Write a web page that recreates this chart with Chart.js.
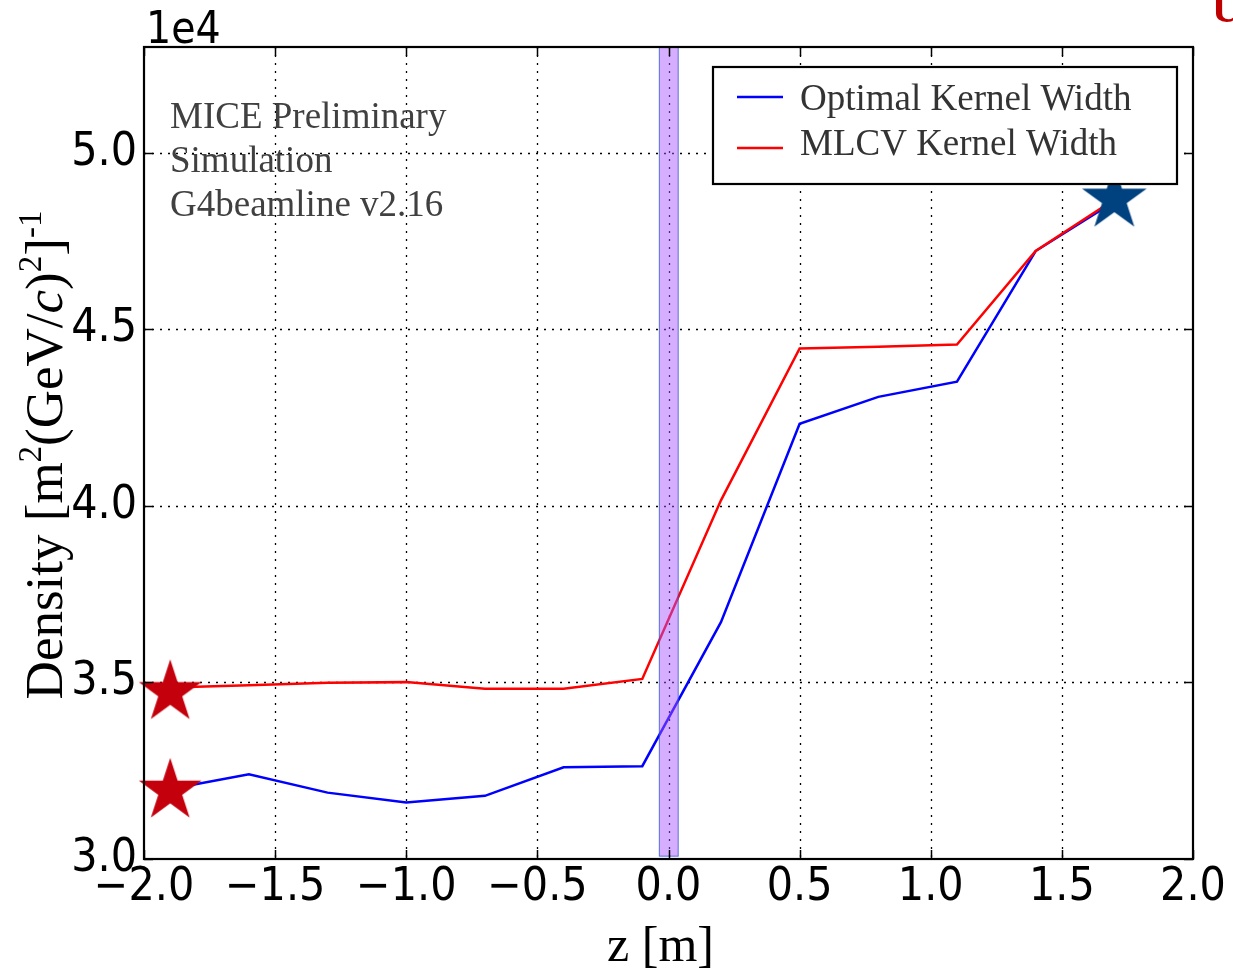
<!DOCTYPE html>
<html>
<head>
<meta charset="utf-8">
<script src="https://cdn.jsdelivr.net/npm/chart.js@4/dist/chart.umd.min.js"></script>
<style>
  html, body { margin: 0; padding: 0; background: #ffffff; }
  canvas { display: block; }
</style>
</head>
<body>
<canvas id="densityChart" width="1233" height="969"></canvas>
<script>
// Beam density along z for two kernel-width choices
const zPositions     = [-1.9, -1.6, -1.3, -1.0, -0.7, -0.4, -0.1, 0.2, 0.5, 0.8, 1.1, 1.4, 1.7];
const optimalDensity = [31980, 32400, 31880, 31600, 31790, 32600, 32630, 36710, 42330, 43090, 43520, 47220, 48620];
const mlcvDensity    = [34860, 34920, 34990, 35010, 34820, 34820, 35100, 40160, 44460, 44510, 44570, 47220, 48680];
const seriesNames    = ['Optimal Kernel Width', 'MLCV Kernel Width'];

// Axis ranges and ticks
const xRange = [-2, 2];
const yRange = [30000, 53000];
const xTicks = [-2.0, -1.5, -1.0, -0.5, 0.0, 0.5, 1.0, 1.5, 2.0];
const yTicks = [30000, 35000, 40000, 45000, 50000];
const yExponent = 4;

// Star markers at the reference and end stations
const starZ       = [-1.9, -1.9, 1.7];
const starDensity = [34720, 31930, 48690];
const starColors  = ['#c4000d', '#c4000d', '#00427f'];
const starSizes   = [33, 33, 34];

// Absorber position (shaded band)
const absorberBand = [-0.035, 0.037];
const absorberFloor = 30080;

const noteLines = ['MICE Preliminary', 'Simulation', 'G4beamline v2.16'];
const xTitle = 'z [m]';

const SANS = "'DejaVu Sans Condensed', 'DejaVu Sans', sans-serif";
const SERIF = "'Liberation Serif', 'Times New Roman', serif";

function makeStar(radius, color) {
  const size = Math.ceil(radius * 2 + 4);
  const c = document.createElement('canvas');
  c.width = size; c.height = size;
  const g = c.getContext('2d');
  const cx = size / 2, cy = size / 2, inner = radius * 0.382;
  g.fillStyle = color;
  g.beginPath();
  for (let i = 0; i < 10; i++) {
    const r = i % 2 === 0 ? radius : inner;
    const a = -Math.PI / 2 + i * Math.PI / 5;
    const px = cx + r * Math.cos(a), py = cy + r * Math.sin(a);
    if (i === 0) g.moveTo(px, py); else g.lineTo(px, py);
  }
  g.closePath();
  g.fill();
  return c;
}

const toPoints = (xs, ys) => xs.map((x, i) => ({ x: x, y: ys[i] }));

const frameAndGrid = {
  id: 'frameAndGrid',
  beforeDatasetsDraw(chart) {
    const { ctx, chartArea: a, scales: { x, y } } = chart;
    ctx.save();
    ctx.strokeStyle = '#000';
    ctx.lineWidth = 1.3;
    ctx.setLineDash([2, 6]);
    xTicks.forEach(v => {
      const px = Math.round(x.getPixelForValue(v)) + 0.5;
      if (px <= a.left + 1 || px >= a.right - 1) return;
      ctx.beginPath(); ctx.moveTo(px, a.top); ctx.lineTo(px, a.bottom); ctx.stroke();
    });
    yTicks.forEach(v => {
      const py = Math.round(y.getPixelForValue(v)) + 0.5;
      if (py <= a.top + 1 || py >= a.bottom - 1) return;
      ctx.beginPath(); ctx.moveTo(a.left, py); ctx.lineTo(a.right, py); ctx.stroke();
    });
    ctx.restore();
  },
  afterDatasetsDraw(chart) {
    const { ctx, chartArea: a, scales: { x, y } } = chart;
    // absorber band, translucent over the curves
    const bx0 = x.getPixelForValue(absorberBand[0]);
    const bx1 = x.getPixelForValue(absorberBand[1]);
    const by0 = y.getPixelForValue(yRange[1]);
    const by1 = y.getPixelForValue(absorberFloor);
    ctx.save();
    ctx.fillStyle = 'rgba(170, 85, 255, 0.48)';
    ctx.fillRect(bx0, by0, bx1 - bx0, by1 - by0);
    ctx.strokeStyle = 'rgba(40, 80, 210, 0.75)';
    ctx.lineWidth = 1;
    ctx.strokeRect(bx0, by0, bx1 - bx0, by1 - by0);
    ctx.restore();

    // inward tick marks on all four sides
    ctx.save();
    ctx.strokeStyle = '#000';
    ctx.lineWidth = 1.5;
    const tl = 9;
    xTicks.forEach(v => {
      const px = Math.round(x.getPixelForValue(v)) + 0.5;
      ctx.beginPath();
      ctx.moveTo(px, a.bottom); ctx.lineTo(px, a.bottom - tl);
      ctx.moveTo(px, a.top); ctx.lineTo(px, a.top + tl);
      ctx.stroke();
    });
    yTicks.forEach(v => {
      const py = Math.round(y.getPixelForValue(v)) + 0.5;
      ctx.beginPath();
      ctx.moveTo(a.left, py); ctx.lineTo(a.left + tl, py);
      ctx.moveTo(a.right, py); ctx.lineTo(a.right - tl, py);
      ctx.stroke();
    });
    // plot frame
    ctx.lineWidth = 2.2;
    ctx.strokeRect(a.left, a.top, a.right - a.left, a.bottom - a.top);
    ctx.restore();

    // annotation text
    ctx.save();
    ctx.fillStyle = '#404040';
    ctx.font = '37px ' + SERIF;
    ctx.textAlign = 'left';
    ctx.textBaseline = 'alphabetic';
    noteLines.forEach((t, i) => ctx.fillText(t, a.left + 26, a.top + 81 + i * 44));
    ctx.restore();

    // legend box
    const lw = 464, lh = 117;
    const lx = a.right - 16 - lw, ly = a.top + 20;
    ctx.save();
    ctx.fillStyle = '#ffffff';
    ctx.fillRect(lx, ly, lw, lh);
    ctx.strokeStyle = '#000';
    ctx.lineWidth = 2.2;
    ctx.strokeRect(lx, ly, lw, lh);
    const ds = chart.data.datasets;
    [0, 1].forEach(i => {
      const sy = ly + 30 + i * 51;
      ctx.strokeStyle = ds[i].borderColor;
      ctx.lineWidth = 2.5;
      ctx.beginPath(); ctx.moveTo(lx + 24, sy); ctx.lineTo(lx + 70, sy); ctx.stroke();
      ctx.fillStyle = '#333333';
      ctx.font = '37px ' + SERIF;
      ctx.textBaseline = 'alphabetic';
      ctx.fillText(seriesNames[i], lx + 87, ly + 43 + i * 45);
    });
    ctx.restore();
  },
  afterDraw(chart) {
    const { ctx, chartArea: a } = chart;
    ctx.save();
    ctx.fillStyle = '#000';
    // exponent label
    ctx.font = '44px ' + SANS;
    ctx.textBaseline = 'alphabetic';
    ctx.textAlign = 'left';
    ctx.fillText('1e' + yExponent, a.left + 2, a.top - 4);

    // x axis title
    ctx.font = '50px ' + SERIF;
    ctx.textAlign = 'center';
    ctx.fillText(xTitle, (a.left + a.right) / 2 - 8, 961);

    // y axis title with superscripts and italic c
    const size = 53;
    const parts = [
      { t: 'Density [m' }, { t: '2', sup: true }, { t: '(GeV/' }, { t: 'c', it: true },
      { t: ')' }, { t: '2', sup: true }, { t: ']' }, { t: '-1', sup: true }
    ];
    const fontFor = p => (p.it ? 'italic ' : '') + (p.sup ? Math.round(size * 0.62) : size) + 'px ' + SERIF;
    let total = 0;
    parts.forEach(p => { ctx.font = fontFor(p); p.w = ctx.measureText(p.t).width; total += p.w; });
    ctx.translate(62, (a.top + a.bottom) / 2 + 2);
    ctx.rotate(-Math.PI / 2);
    ctx.textAlign = 'left';
    let cx = -total / 2;
    parts.forEach(p => {
      ctx.font = fontFor(p);
      ctx.fillText(p.t, cx, p.sup ? -size * 0.4 : 0);
      cx += p.w;
    });
    ctx.restore();

    // clipped logo letter at the corner
    ctx.save();
    ctx.fillStyle = '#c00000';
    ctx.font = 'bold 40px ' + SERIF;
    ctx.textAlign = 'left';
    ctx.fillText('U', 1212, 22);
    ctx.restore();
  }
};

const fmtX = v => (v < 0 ? '\u2212' : '') + Math.abs(v).toFixed(1);
const fmtY = v => (v / Math.pow(10, yExponent)).toFixed(1);

new Chart(document.getElementById('densityChart'), {
  type: 'scatter',
  data: {
    datasets: [
      {
        label: seriesNames[0],
        data: toPoints(zPositions, optimalDensity),
        showLine: true, borderColor: '#0000ff', borderWidth: 2.5,
        pointRadius: 0, tension: 0, order: 2
      },
      {
        label: seriesNames[1],
        data: toPoints(zPositions, mlcvDensity),
        showLine: true, borderColor: '#ff0000', borderWidth: 2.5,
        pointRadius: 0, tension: 0, order: 1
      },
      {
        label: 'stations',
        data: toPoints(starZ, starDensity),
        showLine: false,
        pointStyle: starColors.map((c, i) => makeStar(starSizes[i], c)),
        pointRadius: 10, clip: false, order: 0
      }
    ]
  },
  options: {
    responsive: false,
    animation: false,
    events: [],
    layout: { padding: { top: 47, right: 40, left: 0, bottom: 0 } },
    plugins: { legend: { display: false }, tooltip: { enabled: false } },
    scales: {
      x: {
        type: 'linear', min: xRange[0], max: xRange[1],
        grid: { display: false, drawTicks: false },
        border: { display: false },
        afterBuildTicks: s => { s.ticks = xTicks.map(v => ({ value: v })); },
        afterFit: s => { s.height = 110; },
        ticks: {
          callback: v => fmtX(v), autoSkip: false, maxRotation: 0,
          color: '#000', padding: 1, font: { family: SANS, size: 46 }
        }
      },
      y: {
        type: 'linear', min: yRange[0], max: yRange[1],
        grid: { display: false, drawTicks: false },
        border: { display: false },
        afterBuildTicks: s => { s.ticks = yTicks.map(v => ({ value: v })); },
        afterFit: s => { s.width = 144; },
        ticks: {
          callback: v => fmtY(v), autoSkip: false,
          color: '#000', padding: 7, font: { family: SANS, size: 46 }
        }
      }
    }
  },
  plugins: [frameAndGrid]
});
</script>
</body>
</html>
